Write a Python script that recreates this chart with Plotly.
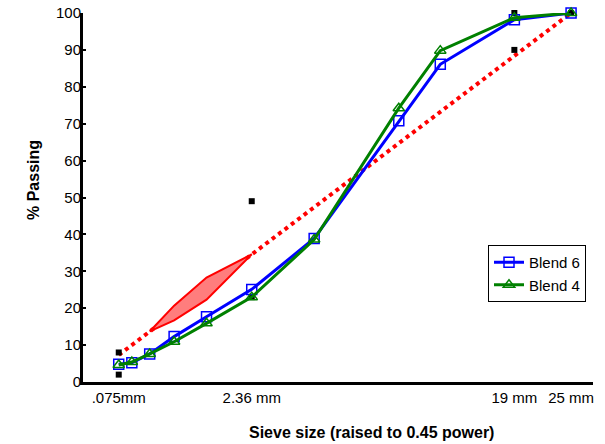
import plotly.graph_objects as go

sieves = [0.075, 0.15, 0.3, 0.6, 1.18, 2.36, 4.75, 9.5, 12.5, 19, 25]
blend6 = [4.8, 5.2, 7.6, 12.3, 17.7, 25.1, 38.9, 70.8, 86.1, 98.2, 100]
blend4 = [4.6, 5.4, 7.6, 10.9, 15.9, 23.0, 38.6, 74.2, 89.8, 98.7, 100]

ctrl_sieves = [0.075, 0.075, 2.36, 2.36, 19, 19, 25]
ctrl_vals = [2, 8, 23, 49, 90, 100, 100]

rz_sieves = [0.3, 0.6, 1.18, 2.36, 1.18, 0.6, 0.3]
rz_vals = [13.7, 20.7, 28.3, 34.6, 22.3, 16.7, 13.7]

mdl_sieves = [0.075, 25]
max_size = 25

tick_sieves = [0.075, 2.36, 19, 25]
tick_labels = [".075mm", "2.36 mm", "19 mm", "25 mm"]

P = 0.45
def tx(v):
    return [s ** P for s in v]

fig = go.Figure()

# maximum density line
fig.add_trace(go.Scatter(
    x=tx(mdl_sieves), y=[100 * (s / max_size) ** P for s in mdl_sieves],
    mode="lines", line=dict(color="rgb(255,0,0)", width=4, dash="dot"),
    showlegend=False, hoverinfo="skip"))

# restricted zone
fig.add_trace(go.Scatter(
    x=tx(rz_sieves), y=rz_vals, mode="lines", fill="toself",
    fillcolor="rgb(255,125,125)", line=dict(color="rgb(255,0,0)", width=2),
    showlegend=False, hoverinfo="skip"))

# control points
fig.add_trace(go.Scatter(
    x=tx(ctrl_sieves), y=ctrl_vals, mode="markers",
    marker=dict(symbol="square", size=6, color="black"),
    showlegend=False, cliponaxis=False))

fig.add_trace(go.Scatter(
    x=tx(sieves), y=blend6, mode="lines+markers", name="Blend 6",
    line=dict(color="rgb(0,0,255)", width=3),
    marker=dict(symbol="square-open", size=10, color="rgb(0,0,255)",
                line=dict(width=1.5)),
    cliponaxis=False))

fig.add_trace(go.Scatter(
    x=tx(sieves), y=blend4, mode="lines+markers", name="Blend 4",
    line=dict(color="rgb(0,128,0)", width=3),
    marker=dict(symbol="triangle-up-open", size=10, color="rgb(0,128,0)",
                line=dict(width=1.5)),
    cliponaxis=False))

W, H = 605, 444
L, R, T, B = 83, 12, 13, 62
pw, ph = W - L - R, H - T - B

def px(xp):  # page x -> paper x
    return (xp - L) / pw

def py(yp):  # page y -> paper y
    return (H - B - yp) / ph

fig.update_layout(
    width=W, height=H,
    margin=dict(l=L, r=R, t=T, b=B, autoexpand=False),
    paper_bgcolor="white", plot_bgcolor="white",
    font=dict(family="Liberation Sans, Arial", size=15, color="black"),
    xaxis=dict(range=[0, 4.448], tickvals=tx(tick_sieves), ticktext=tick_labels,
               showgrid=False, zeroline=False, showline=True, linecolor="black",
               linewidth=3, ticks="", tickfont=dict(size=15), automargin=False,
               ticklabeloverflow="allow"),
    yaxis=dict(range=[0, 100], tickvals=list(range(0, 101, 10)),
               showgrid=False, zeroline=False, showline=True, linecolor="black",
               linewidth=3, ticks="inside", ticklen=3, tickwidth=2,
               tickcolor="black", ticklabelstandoff=-4, tickfont=dict(size=15),
               automargin=False, ticklabeloverflow="allow"),
    legend=dict(x=px(586), y=py(245), xanchor="right", yanchor="top",
                bgcolor="white", bordercolor="black", borderwidth=1,
                font=dict(size=15), itemwidth=30, tracegroupgap=0),
    showlegend=True,
    annotations=[
        dict(text="<b>Sieve size (raised to 0.45 power)</b>", xref="paper", yref="paper",
             x=px(371), y=py(432), xanchor="center", yanchor="middle",
             showarrow=False, font=dict(size=16)),
        dict(text="<b>% Passing</b>", xref="paper", yref="paper",
             x=px(33), y=py(180), xanchor="center", yanchor="middle",
             textangle=-90, showarrow=False, font=dict(size=16)),
    ],
)

fig.write_html("out.html", config={"displayModeBar": False},
               post_script="document.body.style.margin='0px';")
